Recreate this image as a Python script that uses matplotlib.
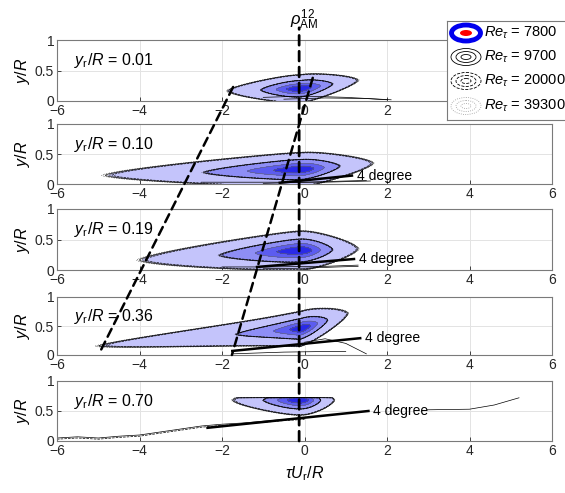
# plot.py
# Space-time correlation rho_AM^12 at five reference heights, four Reynolds numbers

import numpy as np
import matplotlib.pyplot as plt
from matplotlib.patches import Ellipse, ConnectionPatch

plt.rcParams['font.family'] = ['Liberation Sans', 'DejaVu Sans']
plt.rcParams['mathtext.fontset'] = 'custom'
plt.rcParams['mathtext.rm'] = 'Liberation Sans'
plt.rcParams['mathtext.it'] = 'Liberation Sans:italic'
plt.rcParams['mathtext.bf'] = 'Liberation Sans:bold'

# ---- data ----
yr_labels = ['0.01', '0.10', '0.19', '0.36', '0.70']
re_values = [7800, 9700, 20000, 39300]
x_ticks = [-6, -4, -2, 0, 2, 4, 6]
y_ticks = [0, 0.5, 1]

# correlation blob per panel: peak, decay lengths left/right, tilt of ridge
peak_x = [-0.1, -0.1, -0.1, -0.1, -0.1]
peak_y = [0.2, 0.24, 0.32, 0.45, 0.68]
decay_left = [0.6, 1.85, 1.5, 1.1, 0.55]
decay_right = [0.45, 0.6, 0.45, 0.35, 0.22]
decay_pow = [1.0, 1.0, 1.0, 0.6, 1.0]
half_height = [0.13, 0.16, 0.18, 0.17, 0.14]
tilt_left = [0.02, 0.02, 0.04, 0.06, 0.0]
tilt_right = [0.1, 0.06, 0.02, 0.23, 0.0]
y_cut = [1.0, 1.0, 1.0, 1.0, 0.72]

corr_levels = [0.1, 0.35, 0.6, 0.82, 1.01]
re_scale = [1.0, 1.02, 0.98, 1.04]

# "4 degree" reference lines (panels 2-5)
deg_panel = [1, 2, 3, 4]
deg_x0 = [-0.6, -1.15, -1.75, -2.35]
deg_y0 = [0.02, 0.05, 0.07, 0.22]
deg_x1 = [1.15, 1.2, 1.35, 1.55]
deg_y1 = [0.14, 0.18, 0.29, 0.50]

# near-wall contour fragments
wall_panel = [0, 0, 1, 1, 2, 2, 3, 3]
wall_x = [[-1.0, 0.0, 1.0, 2.1], [-0.5, 0.5, 1.5, 2.0],
          [-2.5, -1.0, 0.5, 1.6], [-1.0, 0.0, 1.0, 1.5],
          [-2.0, -1.0, 0.5, 1.3], [-1.0, 0.0, 0.8, 1.3],
          [-1.75, -0.5, 0.5, 1.0], [0.0, 0.5, 1.0, 1.5]]
wall_y = [[0.06, 0.08, 0.06, 0.02], [0.03, 0.05, 0.04, 0.02],
          [0.03, 0.03, 0.03, 0.05], [0.01, 0.03, 0.05, 0.06],
          [0.05, 0.05, 0.06, 0.08], [0.02, 0.03, 0.05, 0.06],
          [0.02, 0.05, 0.06, 0.06], [0.22, 0.28, 0.2, 0.02]]

# bottom panel long contour
p5_low_x = [-6, -5.5, -5, -4.5, -4, -3.5, -3, -2.5, -2, -1.5, -1, -0.5, 0]
p5_low_y = [0.05, 0.07, 0.05, 0.08, 0.10, 0.15, 0.20, 0.25, 0.28, 0.30, 0.33, 0.36, 0.38]
p5_right_x = [2.98, 4.0, 4.6, 5.2]
p5_right_y = [0.52, 0.53, 0.60, 0.72]

# dashed guide lines: (panel, x, y) end points
rho_peak_x = -0.13
guide_a = [(0, -1.73, 0.23), (3, -4.96, 0.05)]
guide_b = [(0, 0.2, 0.38), (3, -1.76, 0.0)]

fill_colors = ['#c4c4fb', '#8e8ef5', '#5c5cf0', '#2a2ae6']
line_styles = ['-', '-', '--', ':']


def corr_field(i, X, Y, s=1.0):
    dx = X - peak_x[i]
    hx = np.sqrt(dx ** 2 + 0.16) - 0.4
    sx = np.where(dx < 0, decay_left[i], decay_right[i]) * s
    p = np.where(dx < 0, decay_pow[i], 1.0)
    k = np.where(dx < 0, tilt_left[i], tilt_right[i])
    yc = peak_y[i] + k * dx
    g = (hx / sx) ** p + (np.abs(Y - yc) / (half_height[i] * s)) ** 1.5
    f = np.exp(-g)
    f[Y > y_cut[i]] = 0
    return f


fig = plt.figure(figsize=(5.65, 4.93), dpi=100)
W, H = 565.0, 493.0
panel_px = [(40, 101), (124, 184), (209, 270), (297, 355), (381, 441)]

xg = np.linspace(-6, 6, 700)
yg = np.linspace(0, 1, 300)
X, Y = np.meshgrid(xg, yg)

axes = []
for i, (top, bot) in enumerate(panel_px):
    ax = fig.add_axes([57 / W, 1 - bot / H, (552 - 57) / W, (bot - top) / H])
    axes.append(ax)
    ax.set_xlim(-6, 6)
    ax.set_ylim(0, 1)
    ax.set_xticks(x_ticks)
    ax.set_yticks(y_ticks)
    ax.set_yticklabels(['0', '0.5', '1'])
    ax.grid(True, color='#e3e3e3', lw=0.7)
    ax.set_axisbelow(True)
    ax.tick_params(direction='in', length=3, labelsize=10, colors='#262626',
                   pad=2, width=0.6)
    for sp in ax.spines.values():
        sp.set_color('#7a7a7a')
        sp.set_linewidth(0.8)
    ax.set_ylabel(r'$y/R$', fontsize=11.5, labelpad=2)

    # Re = 7800 filled
    F = corr_field(i, X, Y, re_scale[0])
    ax.contourf(X, Y, F, levels=corr_levels, colors=fill_colors)
    ax.contour(X, Y, F, levels=corr_levels[:-1], colors='#666666', linewidths=0.4)
    # other Re as line contours
    for r in range(1, len(re_values)):
        Fr = corr_field(i, X, Y, re_scale[r])
        ax.contour(X, Y, Fr, levels=corr_levels[:2], colors='k',
                   linewidths=0.45, linestyles=line_styles[r])

    ax.text(-5.6, 0.66, r'$y_{\mathrm{r}}/R$ = ' + yr_labels[i], fontsize=11.5,
            va='center', ha='left')

for j in range(len(wall_panel)):
    axes[wall_panel[j]].plot(wall_x[j], wall_y[j], color='k', lw=0.5)

for j, p in enumerate(deg_panel):
    axes[p].plot([deg_x0[j], deg_x1[j]], [deg_y0[j], deg_y1[j]], color='k', lw=1.8)
    axes[p].text(deg_x1[j] + 0.12, deg_y1[j], '4 degree', fontsize=10,
                 va='center', ha='left')

axes[4].plot(p5_low_x, p5_low_y, color='k', lw=0.5)
axes[4].plot(p5_low_x, [v - 0.02 for v in p5_low_y], color='k', lw=0.5, ls='--')
axes[4].plot(p5_right_x, p5_right_y, color='k', lw=0.5)

# guide lines spanning panels
for g in (guide_a, guide_b):
    (pa, xa, ya), (pb, xb, yb) = g
    cp = ConnectionPatch(xyA=(xa, ya), coordsA=axes[pa].transData,
                         xyB=(xb, yb), coordsB=axes[pb].transData,
                         color='k', lw=1.8, linestyle=(0, (3.5, 2.2)))
    fig.add_artist(cp)
cp = ConnectionPatch(xyA=(rho_peak_x, 0), coordsA=axes[4].transData,
                     xyB=(rho_peak_x, 1.2), coordsB=axes[0].transData,
                     color='k', lw=2.0, linestyle=(0, (3.5, 2.2)))
fig.add_artist(cp)

fig.text(304 / W, 1 - 20 / H, r'$\rho^{12}_{\mathrm{AM}}$', fontsize=12,
         ha='center', va='center')
fig.text(305 / W, 1 - 474 / H, r'$\tau U_{\mathrm{r}}/R$', fontsize=11.5,
         ha='center', va='center')

# legend box (runs past the right edge as in the original)
lw_px, lh_px = 160.0, 99.0
lax = fig.add_axes([447 / W, 1 - 120 / H, lw_px / W, lh_px / H])
lax.set_xlim(0, lw_px)
lax.set_ylim(lh_px, 0)
lax.set_xticks([])
lax.set_yticks([])
for sp in lax.spines.values():
    sp.set_color('#7a7a7a')
    sp.set_linewidth(0.8)
entry_y = [12, 36, 60, 85]
for k, re in enumerate(re_values):
    cy = entry_y[k]
    if k == 0:
        lax.add_patch(Ellipse((19, cy), 29, 16, fill=False, ec='#0000ee', lw=3.5))
        lax.add_patch(Ellipse((19, cy), 12, 6, fc='#ff0000', ec='none'))
    else:
        col = '#999999' if k == 3 else 'k'
        for w, h in [(30, 17), (20, 11), (10, 5)]:
            lax.add_patch(Ellipse((19, cy), w, h, fill=False, ec=col, lw=0.6,
                                  ls=line_styles[k]))
    lax.text(37, cy, r'$Re_{\tau}$ = %d' % re, fontsize=10.5, va='center', ha='left')

fig.savefig('out.png', dpi=100)
